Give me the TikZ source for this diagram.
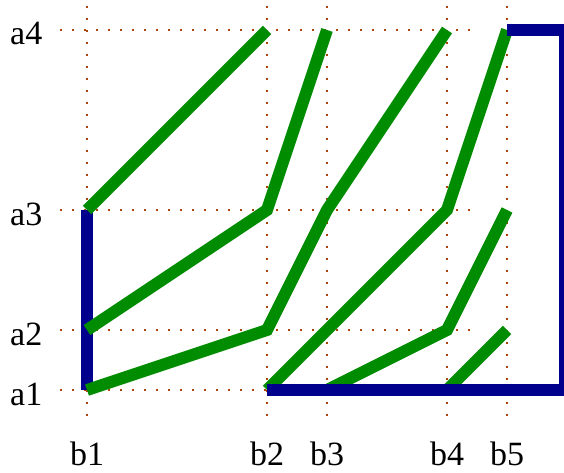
\documentclass[tikz,border=0pt]{standalone}
\usepackage{fontspec}
\setmainfont{Liberation Serif}
\definecolor{gridc}{RGB}{170,70,10}
\definecolor{grn}{RGB}{0,140,0}
\definecolor{blu}{RGB}{0,0,140}
\begin{document}
\begin{tikzpicture}[x=1pt,y=-1pt,
  gridline/.style={gridc, line width=1.5pt, dash pattern=on 2pt off 10pt},
  greenpath/.style={grn, line width=12pt, line join=miter},
  bluepath/.style={blu, line width=12pt},
  lab/.style={font=\fontsize{34}{34}\selectfont, inner sep=0pt}]
\clip (0,0) rectangle (564,473);
\foreach \i/\x in {1/87,2/267,3/327,4/447,5/507}{
  \foreach \j/\y in {1/390,2/330,3/210,4/30}{
    \coordinate (p\i\j) at (\x,\y);
  }
}
% grid
\foreach \x in {87,267,327,447,507}{\draw[gridline] (\x,6) -- (\x,418);}
\foreach \y in {390,330,210,30}{\draw[gridline] (60,\y) -- (472,\y);}
% labels
\foreach \j/\y in {1/390,2/330,3/210,4/30}{
  \node[lab, anchor=base west] (la\j) at (10,\y+15) {a\j};
}
\foreach \i/\x in {1/87,2/267,3/327,4/447,5/507}{
  \node[lab, anchor=base] (lb\i) at (\x,465) {b\i};
}
% blue left
\draw[bluepath] (p11) -- (p13);
% green
\draw[greenpath] (p13) -- (p24);
\draw[greenpath] (p12) -- (p23) -- (p34);
\draw[greenpath] (p11) -- (p22) -- (p33) -- (p44);
\draw[greenpath] (p21) -- (p43) -- (p54);
\draw[greenpath] (p31) -- (p42) -- (p53);
\draw[greenpath] (p41) -- (p52);
% blue right
\coordinate (c1) at (565,30);
\coordinate (c2) at (565,390);
\draw[bluepath] (p54) -- (c1) -- (c2) -- (p21);
\end{tikzpicture}
\end{document}
